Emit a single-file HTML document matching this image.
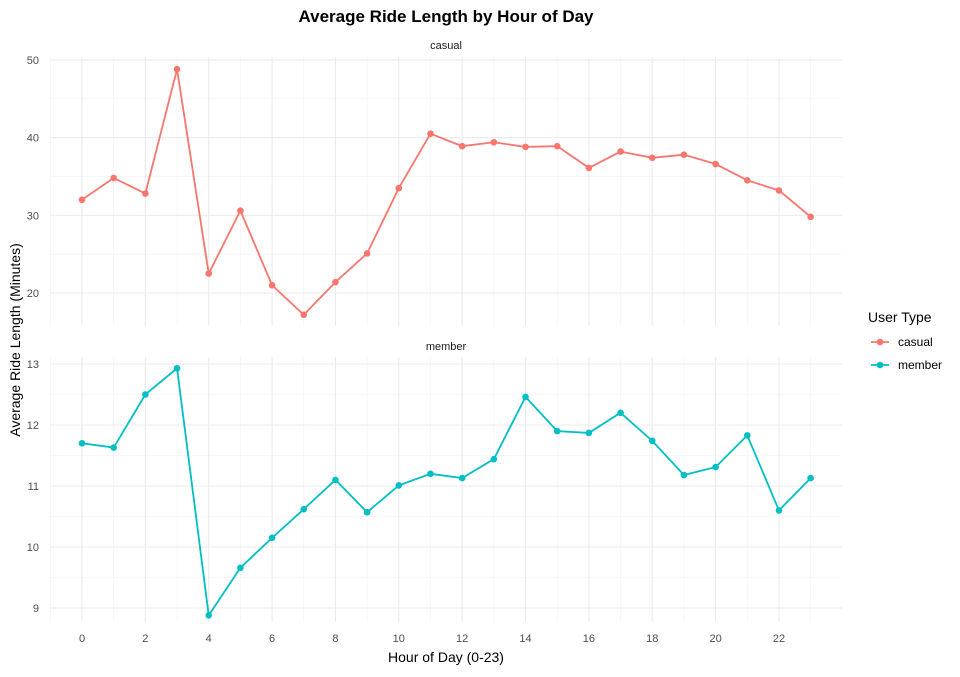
<!DOCTYPE html>
<html><head><meta charset="utf-8"><style>
body{margin:0;background:#fff;font-family:"Liberation Sans",Arial,sans-serif}
</style></head><body>
<svg id="chart" width="960" height="672" xmlns="http://www.w3.org/2000/svg"></svg>
<script>
const hours=[0,1,2,3,4,5,6,7,8,9,10,11,12,13,14,15,16,17,18,19,20,21,22,23];
const casualValues=[32.0,34.8,32.8,48.8,22.5,30.6,21.0,17.2,21.4,25.1,33.5,40.5,38.9,39.4,38.8,38.9,36.1,38.2,37.4,37.8,36.6,34.5,33.2,29.8];
const memberValues=[11.70,11.63,12.50,12.93,8.88,9.66,10.15,10.62,11.10,10.57,11.01,11.20,11.13,11.44,12.46,11.90,11.87,12.20,11.74,11.18,11.31,11.83,10.60,11.13];
const xTicks=[0,2,4,6,8,10,12,14,16,18,20,22];
const casualTicks=[20,30,40,50];
const memberTicks=[9,10,11,12,13];
const NS="http://www.w3.org/2000/svg";
const svg=document.getElementById('chart');
function el(tag,attrs,parent){const e=document.createElementNS(NS,tag);for(const k in attrs)e.setAttribute(k,attrs[k]);(parent||svg).appendChild(e);return e;}
const X0=50,X1=842;
const xs=h=>82+h*31.68;
const panels=[
 {name:'casual',vals:casualValues,ticks:casualTicks,top:57,bot:326,y:v=>293-(v-20)*7.77,minor:[15,25,35,45],color:'#F8766D',stripY:49},
 {name:'member',vals:memberValues,ticks:memberTicks,top:357,bot:622,y:v=>425-(v-12)*61,minor:[8.5,9.5,10.5,11.5,12.5],color:'#00BFC4',stripY:350}
];
panels.forEach(p=>{
 const g=el('g',{});
 
 
 p.minor.forEach(v=>{const yy=p.y(v);if(yy>p.top&&yy<p.bot)el('line',{x1:X0,x2:X1,y1:yy,y2:yy,stroke:'#f2f2f2','stroke-width':0.6},g);});
 for(let h=-1;h<=24;h+=2){const xx=xs(h);if(xx>X0&&xx<X1)el('line',{x1:xx,x2:xx,y1:p.top,y2:p.bot,stroke:'#f2f2f2','stroke-width':0.6},g);}
 p.ticks.forEach(v=>{const yy=p.y(v);el('line',{x1:X0,x2:X1,y1:yy,y2:yy,stroke:'#ebebeb','stroke-width':1.1},g);
  const t=el('text',{x:39,y:yy+4,'text-anchor':'end','font-size':11,fill:'#4d4d4d'},g);t.textContent=v;
  });
 xTicks.forEach(h=>el('line',{x1:xs(h),x2:xs(h),y1:p.top,y2:p.bot,stroke:'#ebebeb','stroke-width':1.1},g));
 const st=el('text',{x:446,y:p.stripY,'text-anchor':'middle','font-size':11,fill:'#1a1a1a'},g);st.textContent=p.name;
 
 const d=p.vals.map((v,i)=>(i?'L':'M')+xs(hours[i])+','+p.y(v)).join('');
 const ln=el('path',{d:d,fill:'none',stroke:p.color,'stroke-width':1.8},g);
 
 p.vals.forEach((v,i)=>{const c=el('circle',{cx:xs(hours[i]),cy:p.y(v),r:3.3,fill:p.color},g);
  });
});
xTicks.forEach(h=>{const t=el('text',{x:xs(h),y:642,'text-anchor':'middle','font-size':11,fill:'#4d4d4d'});t.textContent=h;
 });
let t=el('text',{x:446,y:662,'text-anchor':'middle','font-size':14,fill:'#000'});t.textContent='Hour of Day (0-23)';

t=el('text',{x:20,y:340,'text-anchor':'middle','font-size':14,fill:'#000',transform:'rotate(-90 20 340)'});t.textContent='Average Ride Length (Minutes)';

t=el('text',{x:446,y:22,'text-anchor':'middle','font-size':17,'font-weight':'bold',fill:'#000'});t.textContent='Average Ride Length by Hour of Day';

t=el('text',{x:868,y:322,'font-size':14,fill:'#000'});t.textContent='User Type';

[['casual','#F8766D',342],['member','#00BFC4',365]].forEach(([n,c,y])=>{
 const g=el('g',{});
 el('line',{x1:871,x2:889,y1:y,y2:y,stroke:c,'stroke-width':1.8},g);
 el('circle',{cx:880,cy:y,r:3.3,fill:c},g);
 const tt=el('text',{x:898,y:y+4,'font-size':12,fill:'#000'},g);tt.textContent=n;
});
</script>
</body></html>
